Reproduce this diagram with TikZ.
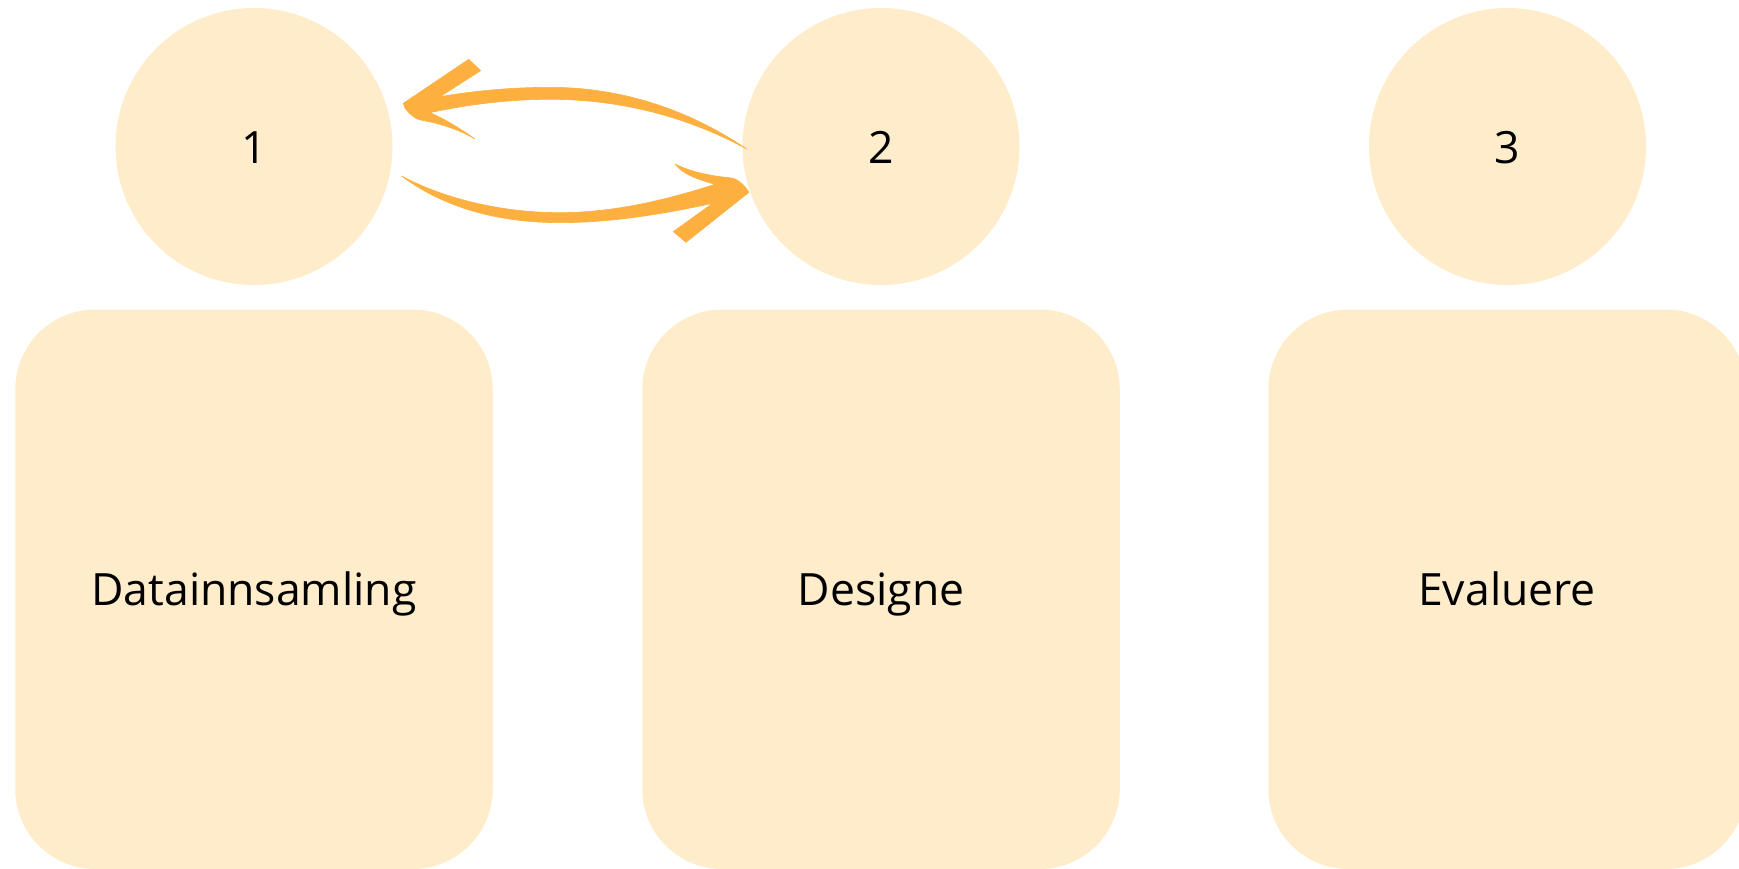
\documentclass[tikz,border=0pt]{standalone}
\usepackage{fontspec}
\setmainfont{Open Sans}
\definecolor{cream}{HTML}{FEECCA}
\definecolor{arrowor}{HTML}{FDB040}
\tikzset{
  stagecircle/.style={circle,fill=cream,draw=none,minimum size=277pt,inner sep=0pt,text height=35pt,text depth=0pt,font=\fontsize{44.5}{50}\selectfont},
  stagebox/.style={rectangle,fill=cream,draw=none,rounded corners=80pt,minimum width=477.5pt,minimum height=559.5pt,inner sep=0pt,text height=33pt,text depth=0pt,font=\fontsize{44.5}{50}\selectfont},
  swoosh/.style={fill=arrowor,draw=arrowor,line width=0.6pt,line join=round}
}
\begin{document}
\begin{tikzpicture}[x=1pt,y=-1pt]
\useasboundingbox (0,0) rectangle (1739,869);
\clip (0,0) rectangle (1739,869);
\node[stagecircle] (c1) at (254,146.5) {1};
\node[stagecircle] (c2) at (881,146.5) {2};
\node[stagecircle] (c3) at (1507.5,146.5) {3};
\node[stagebox] (b1) at (254,589.25) {Datainnsamling};
\node[stagebox] (b2) at (881,589.25) {Designe};
\node[stagebox] (b3) at (1507,589.25) {Evaluere};
\begin{scope}[shift={(380,40)},x=0.3333pt,y=-0.3333pt]
\coordinate (backtail) at (1100,327);
\coordinate (backtip) at (70,190);
\coordinate (fwdtail) at (65,408);
\coordinate (fwdtip) at (1107,457);
\fill[swoosh] (backtail) .. controls (950,225) and (750,142) .. (510,142)
  .. controls (380,142) and (270,155) .. (180,170)
  -- (302,92) -- (266,58) -- (backtip) -- (76,206)
  .. controls (90,222) and (105,238) .. (122,240)
  .. controls (180,250) and (240,270) .. (285,297)
  .. controls (240,265) and (190,235) .. (150,218)
  .. controls (280,190) and (400,178) .. (510,178)
  .. controls (750,178) and (950,245) .. (backtail) -- cycle;
\fill[swoosh] (fwdtail) .. controls (200,510) and (370,548) .. (540,548)
  .. controls (700,548) and (860,520) .. (998,490)
  -- (880,575) -- (918,607) -- (fwdtip) -- (1095,440)
  .. controls (1080,425) and (1065,413) .. (1048,413)
  .. controls (990,408) and (930,395) .. (885,372)
  .. controls (910,405) and (960,420) .. (1005,433)
  .. controls (860,480) and (700,518) .. (540,518)
  .. controls (350,518) and (180,470) .. (fwdtail) -- cycle;
\end{scope}
\end{tikzpicture}
\end{document}
